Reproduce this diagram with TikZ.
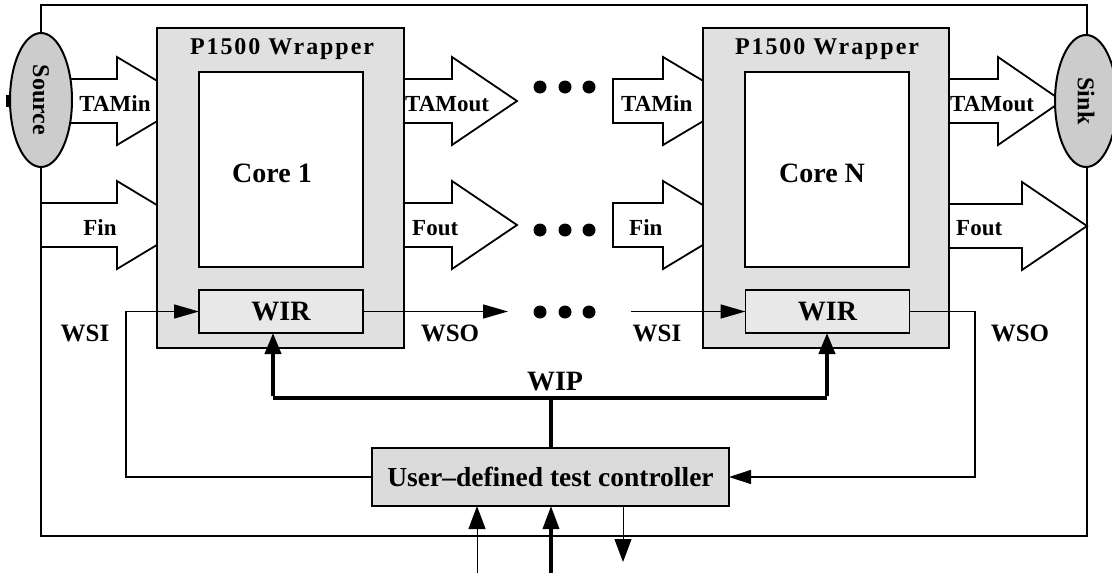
\documentclass[tikz,border=0pt]{standalone}
\usepackage{fontspec}
\setmainfont{Liberation Serif}
\newfontfamily\spaced[LetterSpace=8]{Liberation Serif}
\usetikzlibrary{arrows.meta,shapes.geometric}

\definecolor{wrapfill}{gray}{0.88}
\definecolor{regfill}{gray}{0.91}
\definecolor{ctlfill}{gray}{0.86}
\definecolor{endfill}{gray}{0.80}

\tikzset{
  x=1pt, y=-1pt,
  frame/.style={line width=2.2pt},
  wrapbox/.style={draw, line width=1.4pt, fill=wrapfill, inner sep=0pt, outer sep=0pt},
  corebox/.style={draw, line width=1.6pt, fill=white, inner sep=0pt, outer sep=0pt,
    minimum width=164pt, minimum height=195pt},
  corelbl/.style={inner sep=0pt, font=\fontsize{28}{30}\selectfont\bfseries},
  regbox/.style={draw, line width=1.6pt, fill=regfill, inner sep=0pt, outer sep=0pt,
    minimum width=164pt, minimum height=43pt,
    font=\fontsize{28}{30}\selectfont\bfseries},
  ctlbox/.style={draw, line width=1.4pt, fill=ctlfill, inner sep=0pt, outer sep=0pt,
    minimum width=357pt, minimum height=58pt,
    font=\fontsize{27.5}{30}\selectfont\bfseries},
  endpoint/.style={ellipse, draw, line width=2pt, fill=endfill, inner sep=0pt,
    outer sep=0pt, font=\fontsize{24}{26}\selectfont\bfseries},
  blk/.style={draw, line width=1.8pt, fill=white, line join=miter},
  portlbl/.style={inner sep=0pt, font=\fontsize{23}{25}\selectfont\bfseries},
  siglbl/.style={inner sep=0pt, font=\fontsize{25}{27}\selectfont\bfseries},
  wraplbl/.style={inner sep=0pt, font=\fontsize{24}{26}\spaced\bfseries},
  sig/.style={line width=1.4pt, -{Triangle[length=25pt,width=14pt]}},
  bus/.style={line width=4pt},
  busarrow/.style={line width=4pt, -{Triangle[length=21pt,width=16pt]}},
  thinin/.style={line width=1pt, -{Triangle[length=23pt,width=17pt]}},
  thickin/.style={line width=3.5pt, -{Triangle[length=23pt,width=16pt]}},
  dot/.style={circle, fill=black, inner sep=0pt, minimum size=13pt},
}

% block arrow: #1 start x, #2 head base x, #3 tip x, #4 centre y
\newcommand\blockarrow[4]{%
  \draw[blk] (#1,#4-22) -- (#2,#4-22) -- (#2,#4-44) -- (#3,#4)
    -- (#2,#4+44) -- (#2,#4+22) -- (#1,#4+22) -- cycle;}

\begin{document}
\begin{tikzpicture}
\useasboundingbox (0,0) rectangle (1112,573);

% outer chip boundary
\draw[frame] (41,5) rectangle (1087,536);

% block arrows (inputs pass under the wrappers)
\blockarrow{41}{117}{191}{101}
\blockarrow{41}{117}{190}{225}
\blockarrow{390}{452}{517}{101}
\blockarrow{390}{452}{517}{225}
\blockarrow{613}{663}{737}{101}
\blockarrow{613}{663}{736}{225}
\blockarrow{935}{998}{1062}{101}
\blockarrow{935}{1022}{1087}{226}

% source and sink
\fill (6,95) rectangle (11,107);
\node[endpoint, minimum width=62pt, minimum height=134pt] (src) at (41,100)
  {\rotatebox{-90}{Source}};
\node[endpoint, minimum width=62pt, minimum height=132pt] (snk) at (1086,101)
  {\rotatebox{-90}{Sink}};

% wrapped cores
\node[wrapbox, minimum width=247pt, minimum height=320pt] (w1) at (280.5,188) {};
\node[wrapbox, minimum width=246pt, minimum height=320pt] (w2) at (826,188) {};
\node[wraplbl] (w1t) at (282,49) {P1500 Wrapper};
\node[wraplbl] (w2t) at (827,49) {P1500 Wrapper};
\node[corebox] (c1) at (281,169.5) {};
\node[corebox] (cN) at (827,169.5) {};
\node[corelbl] (c1t) at (272,173) {Core 1};
\node[corelbl] (cNt) at (822,173) {Core N};
\node[regbox] (wir1) at (281,311.5) {WIR};
\node[regbox] (wir2) at (827.5,311.5) {WIR};

% port labels
\node[portlbl] (l1) at (115,104) {TAMin};
\node[portlbl] (l2) at (100,228) {Fin};
\node[portlbl, anchor=west] (l3) at (405,104) {TAMout};
\node[portlbl, anchor=west] (l4) at (412,228) {Fout};
\node[portlbl, anchor=west] (l5) at (621,104) {TAMin};
\node[portlbl, anchor=west] (l6) at (629,228) {Fin};
\node[portlbl, anchor=west] (l7) at (950,104) {TAMout};
\node[portlbl, anchor=west] (l8) at (956,228) {Fout};

% continuation dots
\foreach \i/\x in {a/540,b/565,c/589}{
  \node[dot] (dt\i) at (\x,87) {};
  \node[dot] (db\i) at (\x,230) {};
  \node[dot] (dm\i) at (\x,312) {};
}

% test controller
\node[ctlbox] (ctl) at (550.5,477) {User--defined test controller};

% serial wrapper path
\coordinate (wsiL) at (126,311.5);
\coordinate (wsoR) at (975,311.5);
\coordinate (wso1end) at (508,311.5);
\coordinate (wsi2start) at (631,311.5);
\draw[sig] (ctl.west) -| (wsiL) -- (wir1.west);
\draw[sig] (wir1.east) -- (wso1end);
\draw[sig] (wsi2start) -- (wir2.west);
\draw[sig, -{Triangle[length=22pt,width=14pt]}] (wir2.east) -- (wsoR) |- (ctl.east);

\node[siglbl] (t1) at (85,333) {WSI};
\node[siglbl] (t2) at (450,333) {WSO};
\node[siglbl] (t3) at (657,333) {WSI};
\node[siglbl] (t4) at (1020,333) {WSO};

% parallel instruction port
\coordinate (wipL) at (273,398);
\coordinate (wipR) at (827,398);
\draw[bus] (ctl.north) -- (ctl.north |- wipL);
\draw[bus] (wipL) -- (wipR);
\draw[busarrow] ([yshift=2pt]wipL) -- (wipL |- wir1.south);
\draw[busarrow] ([yshift=2pt]wipR) -- (wipR |- wir2.south);
\node[siglbl, font=\fontsize{28}{30}\selectfont\bfseries] (t5) at (555,382) {WIP};

% external controller pins
\coordinate (p1) at (477,573);
\coordinate (p2) at (551,573);
\coordinate (p3) at (623,562);
\draw[thinin] (p1) -- (p1 |- ctl.south);
\draw[thickin] (p2) -- (p2 |- ctl.south);
\draw[thinin] (p3 |- ctl.south) -- (p3);
\end{tikzpicture}
\end{document}
